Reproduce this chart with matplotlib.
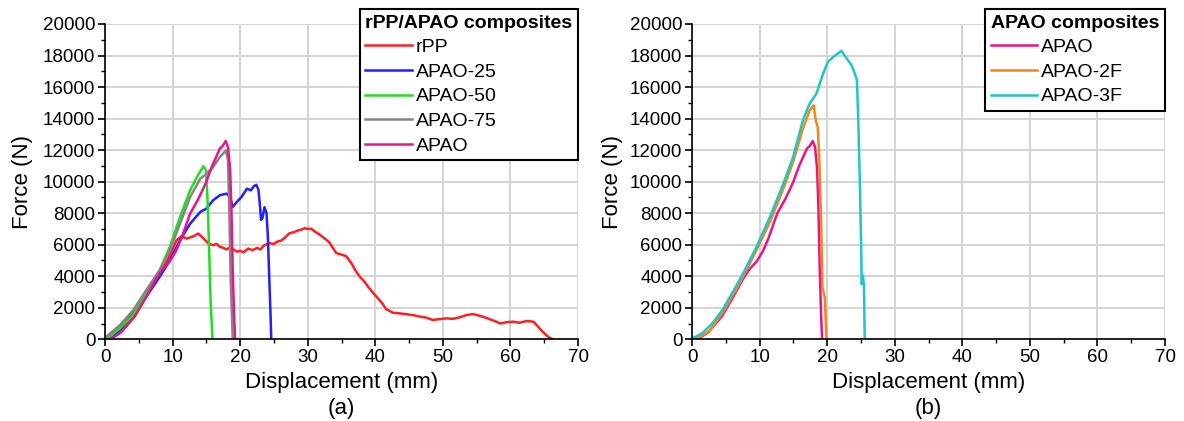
import matplotlib
matplotlib.use("Agg")
import matplotlib.pyplot as plt
from matplotlib.ticker import MultipleLocator

plt.rcParams["font.family"] = ["Liberation Sans", "DejaVu Sans"]

# --- data (displacement in mm, force in N) ---
rpp_x = [0, 0.7, 2.2, 4.2, 6.1, 8.1, 9.6, 10.6, 11.3, 12.1, 13.1, 13.8, 14.6,
         15.3, 16.0, 16.5, 17.0, 17.5, 18.0, 18.5, 19.0, 19.5, 20.0, 20.5,
         21.2, 21.8, 22.5, 23.0, 23.5, 24.3, 25.0, 25.5, 26.0, 26.5, 27.3,
         28.0, 28.5, 29.0, 29.6, 30.0, 30.5, 31.0, 31.8, 32.5, 33.2, 34.2,
         34.8, 35.7, 36.5, 37.0, 37.7, 38.3, 39.0, 39.7, 40.6, 41.0, 41.6,
         42.6, 43.5, 44.5, 45.5, 46.5, 47.5, 48.5, 49.5, 50.5, 51.5, 52.5,
         53.5, 54.5, 55.9, 56.8, 57.9, 58.5, 59.3, 60.4, 61.3, 62.4, 63.4,
         64.0, 64.6, 65.2, 65.8, 66.3]
rpp_f = [0, 270, 800, 1750, 2910, 4180, 5340, 6290, 6540, 6390, 6540, 6710, 6390,
         6080, 5970, 6050, 5870, 5800, 5700, 5850, 5700, 5560, 5610, 5520,
         5760, 5650, 5800, 5700, 5950, 6100, 6050, 6200, 6250, 6400, 6730,
         6800, 6900, 6950, 7050, 7000, 7020, 6850, 6630, 6400, 6150, 5480,
         5400, 5270, 4800, 4400, 3980, 3700, 3300, 2930, 2500, 2300, 1920,
         1690, 1650, 1600, 1540, 1450, 1380, 1230, 1280, 1330, 1300, 1400,
         1540, 1600, 1440, 1300, 1120, 1000, 1080, 1120, 1050, 1160, 1120,
         850, 550, 300, 100, 0]

apao25_x = [0, 1.2, 4.2, 6.1, 8.1, 9.6, 11.1, 12.6, 14.1, 15.0, 16.0, 17.0,
            18.0, 18.5, 18.9, 19.5, 20.2, 21.0, 21.6, 22.0, 22.4, 22.7, 22.9,
            23.1, 23.3, 23.6, 23.9, 24.1, 24.3, 24.5, 24.6]
apao25_f = [0, 170, 1430, 2700, 3970, 5020, 6290, 7340, 8080, 8290, 8820, 9140,
            9240, 9030, 8400, 8710, 9030, 9560, 9450, 9700, 9800, 9500, 8600,
            7570, 7700, 8380, 8000, 6500, 4000, 1500, 0]

apao50_x = [0, 0.7, 2.2, 4.2, 6.1, 8.1, 9.6, 11.1, 12.6, 13.6, 14.55, 14.95,
            15.15, 15.4, 15.6, 15.9]
apao50_f = [0, 170, 700, 1540, 2910, 4390, 5870, 7760, 9450, 10300, 10970, 10720,
            9030, 5870, 2700, 0]

apao75_x = [0, 0.2, 2.2, 4.2, 6.1, 8.1, 9.6, 11.1, 12.6, 14.1, 15.0, 16.0,
            17.0, 17.9, 18.2, 18.4, 18.6, 18.9]
apao75_f = [0, 170, 900, 1860, 3120, 4390, 5650, 7340, 9030, 10190, 10500, 10930,
            11560, 11980, 11350, 7980, 3760, 0]

apao_x = [0, 0.8, 2.4, 4.4, 6.0, 7.5, 8.5, 9.5, 10.5, 11.3, 12.6, 13.8, 14.9,
          15.9, 17.0, 17.4, 17.85, 18.2, 18.5, 18.7, 18.9, 19.1, 19.25]
apao_f = [0, 0, 450, 1450, 2620, 3800, 4450, 4900, 5600, 6400, 7980, 8900, 9900,
          11050, 12100, 12250, 12580, 12200, 10850, 8370, 4350, 1500, 0]

apao2f_x = [0, 0.6, 2.6, 4.55, 6.0, 7.5, 9.5, 11.5, 13.5, 14.95, 16.4, 17.4,
            18.0, 18.3, 18.6, 18.8, 19.1, 19.3, 19.65, 19.9]
apao2f_f = [0, 0, 530, 1700, 2760, 3920, 5620, 7420, 9540, 11240, 13360, 14520,
            14840, 13890, 13460, 11770, 7530, 3290, 2650, 0]

apao3f_x = [0, 0.5, 1.6, 3.1, 4.55, 6.0, 7.5, 9.5, 11.5, 13.5, 14.95, 16.4,
            17.4, 18.4, 19.4, 20.1, 20.9, 21.6, 22.1, 22.9, 23.6, 24.1, 24.4,
            24.6, 24.85, 25.05, 25.1, 25.3, 25.45, 25.55]
apao3f_f = [100, 150, 420, 1060, 1900, 2970, 4130, 5830, 7740, 9860, 11550, 13890,
            14950, 15580, 16850, 17600, 17910, 18130, 18300, 17810, 17380, 16850,
            16430, 13890, 9650, 5400, 3500, 4030, 3290, 0]

C_RPP = "#ff1f1f"
C_25 = "#1f1fff"
C_50 = "#22dd22"
C_75 = "#858585"
C_APAO = "#e8158a"
C_2F = "#f5841f"
C_3F = "#1fc6c6"


def style_axis(ax, panel_tag, ylabel_x):
    ax.set_xlim(0, 70)
    ax.set_ylim(0, 20000)
    ax.xaxis.set_major_locator(MultipleLocator(10))
    ax.xaxis.set_minor_locator(MultipleLocator(5))
    ax.yaxis.set_major_locator(MultipleLocator(2000))
    ax.yaxis.set_minor_locator(MultipleLocator(1000))
    ax.grid(True, which="major", color="#d4d4d4", lw=1.4)
    ax.set_axisbelow(True)
    for side in ("top", "right"):
        ax.spines[side].set_visible(False)
    for side in ("left", "bottom"):
        ax.spines[side].set_linewidth(1.2)
    ax.tick_params(which="major", direction="out", length=5, width=1.2,
                   labelsize=13.5, pad=2)
    ax.tick_params(which="minor", direction="out", length=3, width=1.0)
    ax.set_xlabel("Displacement (mm)", fontsize=16)
    ax.xaxis.set_label_coords(0.5, -0.105)
    ax.set_ylabel("Force (N)", fontsize=16)
    ax.yaxis.set_label_coords(ylabel_x, 0.5)
    ax.text(0.5, -0.218, panel_tag, transform=ax.transAxes, ha="center",
            va="center", fontsize=16)


def add_legend(ax, title, anchor):
    leg = ax.legend(title=title, loc="upper right", bbox_to_anchor=anchor,
                    borderaxespad=0, fontsize=14, frameon=True, fancybox=False,
                    handlelength=2.4, handletextpad=0.2, labelspacing=0.36,
                    borderpad=0.28, title_fontproperties={"weight": "bold",
                                                         "size": 14})
    leg.get_frame().set_edgecolor("black")
    leg.get_frame().set_linewidth(1.5)
    leg.get_frame().set_alpha(1)
    leg._legend_box.align = "left"
    return leg


fig = plt.figure(figsize=(11.84, 4.21), dpi=100)
ax1 = fig.add_axes([0.0887, 0.194, 0.3995, 0.749])
ax2 = fig.add_axes([0.5845, 0.194, 0.3995, 0.749])

lw = 1.8
ax1.plot(rpp_x, rpp_f, color=C_RPP, lw=lw, label="rPP")
ax1.plot(apao25_x, apao25_f, color=C_25, lw=lw, label="APAO-25")
ax1.plot(apao50_x, apao50_f, color=C_50, lw=lw, label="APAO-50")
ax1.plot(apao75_x, apao75_f, color=C_75, lw=lw, label="APAO-75")
ax1.plot(apao_x, apao_f, color=C_APAO, lw=lw, label="APAO")
style_axis(ax1, "(a)", -0.152)
add_legend(ax1, "rPP/APAO composites", (0.999, 1.047))

ax2.plot(apao_x, apao_f, color=C_APAO, lw=lw, label="APAO")
ax2.plot(apao2f_x, apao2f_f, color=C_2F, lw=lw, label="APAO-2F")
ax2.plot(apao3f_x, apao3f_f, color=C_3F, lw=lw, label="APAO-3F")
style_axis(ax2, "(b)", -0.146)
add_legend(ax2, "APAO composites", (0.999, 1.047))

fig.savefig("out.png", dpi=100)
